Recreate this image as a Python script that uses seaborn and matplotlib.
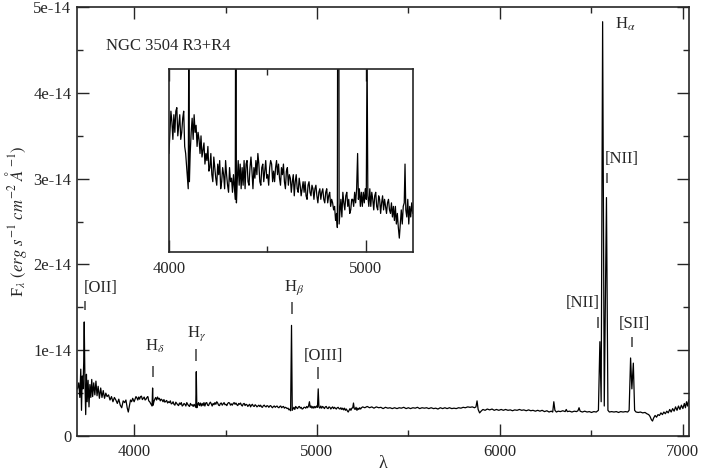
"""Optical spectrum of NGC 3504 (R3+R4) with a zoomed inset of the blue continuum."""

import matplotlib

matplotlib.use("Agg")
import matplotlib.pyplot as plt
import pandas as pd
import seaborn as sns
from matplotlib.ticker import FuncFormatter, MultipleLocator

# flux values are in units of 1e-14 erg s^-1 cm^-2 A^-1
blue_wave = [3690, 3697, 3703, 3708, 3712, 3716, 3720, 3724, 3727, 3731,
             3735, 3739, 3743, 3748, 3753, 3758, 3763, 3768, 3773, 3779,
             3785, 3791, 3797, 3803, 3810, 3817, 3824, 3831, 3838, 3845,
             3852, 3860, 3868, 3876, 3884, 3892, 3900, 3908, 3916, 3924,
             3932, 3940, 3948, 3955, 3962, 3968, 3974, 3980, 3986, 3992]
blue_flux = [0.55, 0.62, 0.45, 0.78, 0.30, 0.70, 0.55, 0.85, 1.33, 0.60,
             0.25, 0.72, 0.40, 0.65, 0.34, 0.60, 0.45, 0.66, 0.46, 0.62,
             0.48, 0.64, 0.47, 0.58, 0.44, 0.56, 0.45, 0.53, 0.44, 0.50,
             0.46, 0.48, 0.42, 0.46, 0.40, 0.45, 0.42, 0.38, 0.43, 0.36,
             0.33, 0.41, 0.39, 0.42, 0.33, 0.28, 0.35, 0.42, 0.40, 0.44]

mid_wave = [4000, 4005, 4010, 4015, 4020, 4025, 4030, 4035, 4040, 4045,
            4050, 4055, 4060, 4065, 4070, 4075, 4080, 4085, 4090, 4095,
            4098, 4101, 4104, 4108, 4113, 4118, 4123, 4128, 4133, 4138,
            4143, 4148, 4153, 4158, 4163, 4168, 4173, 4178, 4183, 4188,
            4193, 4198, 4203, 4208, 4213, 4218, 4223, 4228, 4233, 4238,
            4243, 4248, 4253, 4258, 4263, 4268, 4273, 4278, 4283, 4288,
            4293, 4298, 4303, 4308, 4313, 4318, 4323, 4328, 4333, 4337,
            4340, 4343, 4347, 4352, 4357, 4362, 4367, 4372, 4377, 4382,
            4387, 4392, 4397, 4402, 4407, 4412, 4417, 4422, 4427, 4432,
            4437, 4442, 4447, 4452, 4457, 4462, 4467, 4472, 4477, 4482,
            4487, 4492, 4497, 4502, 4507, 4512, 4517, 4522, 4527, 4532,
            4537, 4542, 4547, 4552, 4557, 4562, 4567, 4572, 4577, 4582,
            4587, 4592, 4597, 4602, 4607, 4612, 4617, 4622, 4627, 4632,
            4637, 4642, 4647, 4652, 4657, 4662, 4667, 4672, 4677, 4682,
            4687, 4692, 4697, 4702, 4707, 4712, 4717, 4722, 4727, 4732,
            4737, 4742, 4747, 4752, 4757, 4762, 4767, 4772, 4777, 4782,
            4787, 4792, 4797, 4802, 4807, 4812, 4817, 4822, 4827, 4832,
            4837, 4842, 4847, 4852, 4856, 4861, 4865, 4869, 4874, 4879,
            4884, 4889, 4894, 4899, 4904, 4909, 4914, 4919, 4924, 4929,
            4934, 4939, 4944, 4949, 4954, 4959, 4963, 4968, 4973, 4978,
            4983, 4988, 4993, 4998, 5003, 5007, 5011, 5016, 5021, 5026,
            5031, 5036, 5041, 5046, 5051, 5056, 5061, 5066, 5071, 5076,
            5081, 5086, 5091, 5096, 5101, 5106, 5111, 5116, 5121, 5126,
            5131, 5136, 5141, 5146, 5151, 5156, 5161, 5166, 5171, 5176,
            5181, 5186, 5191, 5196, 5200, 5204, 5209, 5214, 5219, 5224,
            5229, 5234, 5239, 5244]
mid_flux = [0.40, 0.43, 0.46, 0.445, 0.42, 0.455, 0.43, 0.46, 0.465, 0.425,
            0.44, 0.455, 0.42, 0.43, 0.45, 0.46, 0.41, 0.40, 0.38, 0.36,
            0.35, 0.56, 0.36, 0.40, 0.43, 0.45, 0.42, 0.455, 0.43, 0.44,
            0.41, 0.43, 0.42, 0.40, 0.425, 0.395, 0.405, 0.415, 0.385, 0.40,
            0.39, 0.41, 0.375, 0.38, 0.40, 0.37, 0.36, 0.395, 0.38, 0.365,
            0.355, 0.385, 0.37, 0.39, 0.35, 0.36, 0.38, 0.37, 0.35, 0.39,
            0.37, 0.355, 0.345, 0.38, 0.36, 0.365, 0.345, 0.37, 0.35, 0.335,
            0.75, 0.33, 0.36, 0.39, 0.355, 0.385, 0.35, 0.38, 0.355, 0.39,
            0.35, 0.385, 0.39, 0.36, 0.355, 0.38, 0.395, 0.375, 0.35, 0.38,
            0.365, 0.39, 0.37, 0.40, 0.385, 0.36, 0.355, 0.38, 0.385, 0.36,
            0.375, 0.39, 0.365, 0.37, 0.355, 0.38, 0.39, 0.385, 0.36, 0.375,
            0.36, 0.38, 0.39, 0.37, 0.385, 0.365, 0.355, 0.38, 0.37, 0.385,
            0.36, 0.35, 0.375, 0.38, 0.355, 0.37, 0.365, 0.345, 0.36, 0.37,
            0.34, 0.36, 0.37, 0.35, 0.345, 0.365, 0.355, 0.34, 0.35, 0.36,
            0.345, 0.36, 0.34, 0.335, 0.355, 0.36, 0.345, 0.34, 0.355, 0.35,
            0.335, 0.35, 0.355, 0.34, 0.33, 0.345, 0.35, 0.335, 0.345, 0.35,
            0.335, 0.33, 0.345, 0.35, 0.33, 0.34, 0.345, 0.325, 0.335, 0.33,
            0.32, 0.325, 0.305, 0.315, 0.295, 1.29, 0.30, 0.315, 0.335, 0.31,
            0.345, 0.33, 0.32, 0.34, 0.345, 0.325, 0.335, 0.315, 0.32, 0.335,
            0.335, 0.325, 0.345, 0.33, 0.35, 0.40, 0.335, 0.35, 0.325, 0.345,
            0.325, 0.345, 0.33, 0.35, 0.335, 0.55, 0.34, 0.325, 0.35, 0.325,
            0.345, 0.335, 0.32, 0.34, 0.345, 0.325, 0.32, 0.34, 0.335, 0.315,
            0.33, 0.34, 0.32, 0.335, 0.325, 0.315, 0.33, 0.335, 0.32, 0.315,
            0.33, 0.31, 0.325, 0.305, 0.325, 0.30, 0.315, 0.295, 0.28, 0.30,
            0.32, 0.30, 0.325, 0.33, 0.385, 0.32, 0.31, 0.335, 0.30, 0.325,
            0.31, 0.33, 0.315, 0.33]

red_wave = [5250, 5262, 5275, 5288, 5300, 5312, 5325, 5338, 5350, 5362,
            5375, 5388, 5400, 5412, 5425, 5438, 5450, 5462, 5475, 5488,
            5500, 5512, 5525, 5538, 5550, 5562, 5575, 5588, 5600, 5612,
            5625, 5638, 5650, 5662, 5675, 5688, 5700, 5712, 5725, 5738,
            5750, 5762, 5775, 5788, 5800, 5812, 5825, 5838, 5850, 5862,
            5870, 5876, 5882, 5890, 5898, 5908, 5920, 5932, 5945, 5958,
            5970, 5982, 5995, 6008, 6020, 6032, 6045, 6058, 6070, 6082,
            6095, 6108, 6120, 6132, 6145, 6158, 6170, 6182, 6195, 6208,
            6220, 6232, 6245, 6258, 6270, 6282, 6290, 6296, 6302, 6310,
            6320, 6332, 6345, 6358, 6364, 6370, 6382, 6395, 6408, 6420,
            6428, 6434, 6440, 6452, 6465, 6478, 6490, 6502, 6515, 6528,
            6540, 6548, 6555, 6563, 6572, 6584, 6592, 6600, 6612, 6625,
            6638, 6650, 6662, 6675, 6688, 6700, 6708, 6716, 6723, 6731,
            6738, 6746, 6758, 6770, 6782, 6795, 6805, 6815, 6822, 6830,
            6836, 6842, 6850, 6858, 6866, 6874, 6882, 6890, 6898, 6906,
            6914, 6922, 6930, 6938, 6946, 6954, 6962, 6970, 6978, 6986,
            6994, 7002, 7010, 7016, 7022, 7028, 7034]
red_flux = [0.34, 0.33, 0.345, 0.33, 0.34, 0.325, 0.34, 0.33, 0.335, 0.32,
            0.335, 0.325, 0.33, 0.32, 0.33, 0.32, 0.33, 0.325, 0.335, 0.32,
            0.33, 0.32, 0.33, 0.325, 0.335, 0.32, 0.33, 0.325, 0.33, 0.32,
            0.33, 0.32, 0.325, 0.315, 0.33, 0.32, 0.33, 0.32, 0.33, 0.32,
            0.325, 0.32, 0.33, 0.325, 0.335, 0.33, 0.34, 0.335, 0.34, 0.33,
            0.34, 0.41, 0.31, 0.27, 0.29, 0.31, 0.30, 0.315, 0.305, 0.315,
            0.30, 0.31, 0.30, 0.31, 0.30, 0.31, 0.30, 0.305, 0.295, 0.305,
            0.30, 0.31, 0.30, 0.305, 0.295, 0.305, 0.295, 0.30, 0.29, 0.30,
            0.29, 0.30, 0.285, 0.295, 0.28, 0.29, 0.28, 0.40, 0.30, 0.28,
            0.29, 0.285, 0.295, 0.285, 0.31, 0.285, 0.29, 0.28, 0.29, 0.285,
            0.295, 0.33, 0.29, 0.28, 0.29, 0.28, 0.285, 0.275, 0.285, 0.28,
            0.30, 1.10, 0.40, 4.83, 0.35, 2.78, 0.30, 0.28, 0.285, 0.28,
            0.285, 0.275, 0.285, 0.28, 0.285, 0.28, 0.30, 0.91, 0.55, 0.85,
            0.30, 0.28, 0.275, 0.28, 0.27, 0.275, 0.26, 0.25, 0.23, 0.19,
            0.175, 0.21, 0.24, 0.22, 0.25, 0.24, 0.27, 0.25, 0.28, 0.26,
            0.29, 0.27, 0.31, 0.28, 0.32, 0.29, 0.34, 0.30, 0.35, 0.31,
            0.36, 0.32, 0.38, 0.33, 0.40, 0.35, 0.42]

# y axis ticks (units of 1e-14)
flux_ticks = [0, 1, 2, 3, 4, 5]

# line identifications
line_names = ["[OII]", r"H$_\delta$", r"H$_\gamma$", r"H$_\beta$", "[OIII]",
              r"H$_\alpha$", "[NII]", "[NII]", "[SII]"]

# label layout (data units): text centre, text baseline, tick x, tick bottom, tick top
text_x = [3817, 4115, 4342, 4878, 5033, 6686, 6670, 6456, 6735]
text_y = [1.68, 1.00, 1.16, 1.69, 0.886, 4.75, 3.18, 1.50, 1.26]
tick_x = [3732, 4104, 4339, 4864, 5006, None, 6588, 6538, 6724]
tick_lo = [1.47, 0.69, 0.87, 1.42, 0.66, None, 2.95, 1.26, 1.04]
tick_hi = [1.57, 0.82, 1.01, 1.56, 0.80, None, 3.07, 1.39, 1.15]

SCALE = 1e-14


def style_ticks(ax, major, minor):
    ax.tick_params(which="both", direction="in", top=True, right=True,
                   width=1.0, labelsize=12)
    ax.tick_params(which="major", length=major)
    ax.tick_params(which="minor", length=minor)


def main() -> None:
    sns.set_theme(style="ticks")
    plt.rcParams["font.family"] = ["Liberation Serif", "DejaVu Serif"]
    plt.rcParams["mathtext.fontset"] = "stix"
    plt.rcParams["axes.linewidth"] = 1.2

    df = pd.DataFrame({
        "wavelength": blue_wave + mid_wave + red_wave,
        "flux": blue_flux + mid_flux + red_flux,
    })
    df["flux"] = df["flux"] * SCALE

    fig = plt.figure(figsize=(7.01, 4.75), dpi=100)
    ax = fig.add_axes([0.110, 0.082, 0.873, 0.903])

    sns.lineplot(data=df, x="wavelength", y="flux", ax=ax, color="black",
                 linewidth=0.9, estimator=None, sort=False)
    ax.set_xlim(3688, 7036)
    ax.set_ylim(0, 5 * SCALE)
    ax.set_xticks([4000, 5000, 6000, 7000])
    ax.xaxis.set_minor_locator(MultipleLocator(500))
    ax.set_yticks([t * SCALE for t in flux_ticks])
    ax.yaxis.set_minor_locator(MultipleLocator(0.5 * SCALE))
    ax.yaxis.set_major_formatter(FuncFormatter(lambda v, p: f"{v:g}"))
    style_ticks(ax, 8.6, 4.3)
    ax.tick_params(axis="y", pad=4)
    ax.tick_params(axis="x", pad=6)

    ax.set_xlabel("λ", fontsize=13)
    ax.xaxis.set_label_coords(0.5, -0.045)
    ax.set_ylabel(r"F$_{\lambda}$ $(\mathit{erg\ s}^{-1}\ \mathit{cm}^{-2}\ \AA^{-1})$",
                  fontsize=12)
    ax.yaxis.set_label_coords(-0.078, 0.5)

    ax.text(3847, 4.50 * SCALE, "NGC 3504 R3+R4", fontsize=12, ha="left",
            va="baseline")
    for name, tx, ty, mx, lo, hi in zip(line_names, text_x, text_y,
                                        tick_x, tick_lo, tick_hi):
        ax.text(tx, ty * SCALE, name, fontsize=12, ha="center", va="baseline")
        if mx is not None:
            ax.vlines(mx, lo * SCALE, hi * SCALE, color="0.4", linewidth=1.4)

    # inset: blue part of the continuum
    inset = fig.add_axes([0.241, 0.469, 0.348, 0.386])
    sns.lineplot(data=df, x="wavelength", y="flux", ax=inset, color="black",
                 linewidth=0.9, estimator=None, sort=False)
    inset.set_xlim(4000, 5240)
    inset.set_ylim(0.26 * SCALE, 0.52 * SCALE)
    inset.set_xticks([4000, 5000])
    inset.xaxis.set_minor_locator(MultipleLocator(500))
    style_ticks(inset, 8.6, 4.0)
    inset.tick_params(axis="y", which="both", left=False, right=False,
                      labelleft=False)
    inset.tick_params(axis="x", pad=6)
    inset.set_xlabel("")
    inset.set_ylabel("")

    fig.savefig("out.png", dpi=100)
    plt.close(fig)


if __name__ == "__main__":
    main()
